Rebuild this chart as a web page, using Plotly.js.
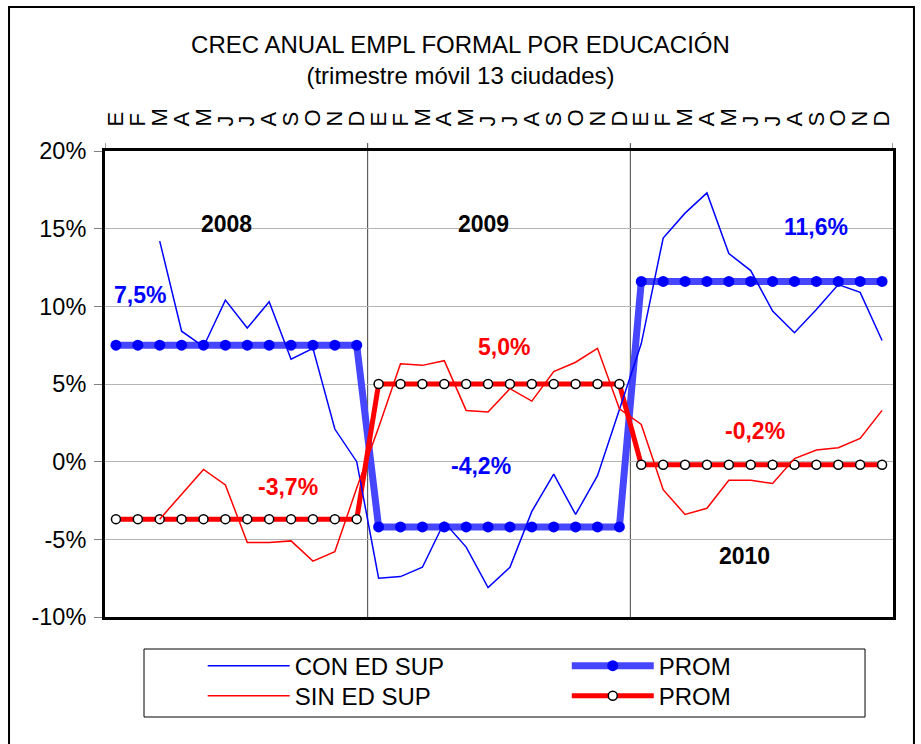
<!DOCTYPE html>
<html>
<head>
<meta charset="utf-8">
<script src="https://cdn.plot.ly/plotly-3.0.1.min.js"></script>
<style>html,body{margin:0;padding:0;background:#fff;}#chart{width:921px;height:744px;}</style>
</head>
<body>
<div id="chart"></div>
<script>
// ---- data ----
const months = ['E','F','M','A','M','J','J','A','S','O','N','D',
                'E','F','M','A','M','J','J','A','S','O','N','D',
                'E','F','M','A','M','J','J','A','S','O','N','D'];
const years = ['2008','2009','2010'];
const conEdSup = [null, null, 14.2, 8.4, 7.4, 10.4, 8.6, 10.3, 6.6, 7.3, 2.1, 0.0,
                  -7.5, -7.4, -6.8, -3.9, -5.5, -8.1, -6.8, -3.2, -0.8, -3.4, -0.9, 3.4,
                  7.6, 14.4, 16.0, 17.3, 13.4, 12.3, 9.7, 8.3, 9.8, 11.4, 10.9, 7.8];
const sinEdSup = [null, null, -3.7, -2.1, -0.5, -1.5, -5.2, -5.2, -5.1, -6.4, -5.8, -1.7,
                  2.2, 6.3, 6.2, 6.5, 3.3, 3.2, 4.7, 3.9, 5.8, 6.4, 7.3, 3.4,
                  2.4, -1.8, -3.4, -3.0, -1.2, -1.2, -1.4, 0.2, 0.75, 0.9, 1.5, 3.3];
const promCon = [7.5, 7.5, 7.5, 7.5, 7.5, 7.5, 7.5, 7.5, 7.5, 7.5, 7.5, 7.5,
                 -4.2, -4.2, -4.2, -4.2, -4.2, -4.2, -4.2, -4.2, -4.2, -4.2, -4.2, -4.2,
                 11.6, 11.6, 11.6, 11.6, 11.6, 11.6, 11.6, 11.6, 11.6, 11.6, 11.6, 11.6];
const promSin = [-3.7, -3.7, -3.7, -3.7, -3.7, -3.7, -3.7, -3.7, -3.7, -3.7, -3.7, -3.7,
                 5.0, 5.0, 5.0, 5.0, 5.0, 5.0, 5.0, 5.0, 5.0, 5.0, 5.0, 5.0,
                 -0.2, -0.2, -0.2, -0.2, -0.2, -0.2, -0.2, -0.2, -0.2, -0.2, -0.2, -0.2];
const yTickVals = [-10, -5, 0, 5, 10, 15, 20];
const yTickLabels = ['-10%', '-5%', '0%', '5%', '10%', '15%', '20%'];
const titleText = 'CREC ANUAL EMPL FORMAL POR EDUCACIÓN<br>(trimestre móvil 13 ciudades)';
const seriesNames = ['CON ED SUP', 'PROM', 'SIN ED SUP', 'PROM'];

// ---- build ----
const idx = months.map((m, i) => i);
const FONT = 'Liberation Sans, Arial, sans-serif';
const fmt = v => v.toFixed(1).replace('.', ',') + '%';

const traces = [
  {x: idx, y: promCon, name: seriesNames[1], mode: 'lines+markers', legend: 'legend2',
   line: {color: '#4646ff', width: 7}, marker: {color: '#0000ff', size: 11}},
  {x: idx, y: promSin, name: seriesNames[3], mode: 'lines+markers', legend: 'legend4',
   line: {color: '#ff0000', width: 5}, marker: {color: '#ffffff', size: 9, line: {color: '#000', width: 1.5}}},
  {x: idx, y: conEdSup, name: seriesNames[0], mode: 'lines', legend: 'legend',
   line: {color: '#0000ff', width: 1.5}},
  {x: idx, y: sinEdSup, name: seriesNames[2], mode: 'lines', legend: 'legend3',
   line: {color: '#ff0000', width: 1.5}}
];

// year boundaries
const shapes = [];
const nYears = years.length;
for (let k = 0; k <= nYears; k++) {
  const xb = k * 12 - 0.5;
  const inner = k > 0 && k < nYears;
  shapes.push({type: 'line', xref: 'x', yref: 'paper', x0: xb, x1: xb,
               y0: inner ? 0 : 1, y1: 1.017, layer: 'below',
               line: {color: '#404040', width: 1}});
}
// outer chart border
shapes.push({type: 'rect', xref: 'paper', yref: 'paper', x0: -0.1218, x1: 1.0266, y0: -0.40, y1: 1.309,
             line: {color: '#000', width: 2}});
// legend box
shapes.push({type: 'rect', xref: 'paper', yref: 'paper', x0: 0.0495, x1: 0.9645, y0: -0.2146, y1: -0.0687,
             line: {color: '#000', width: 1}});

// annotation texts from data
const labelSpecs = [
  {text: years[0], x: 5.07, y: 15.3, color: '#000'},
  {text: years[1], x: 16.8, y: 15.3, color: '#000'},
  {text: years[2], x: 28.7, y: -6.1, color: '#000'},
  {text: fmt(promCon[0]), x: 1.1, y: 10.7, color: '#0000ff'},
  {text: fmt(promCon[12]), x: 16.7, y: -0.3, color: '#0000ff'},
  {text: fmt(promCon[24]), x: 32.0, y: 15.1, color: '#0000ff'},
  {text: fmt(promSin[0]), x: 7.85, y: -1.6, color: '#ff0000'},
  {text: fmt(promSin[12]), x: 17.75, y: 7.4, color: '#ff0000'},
  {text: fmt(promSin[24]), x: 29.2, y: 2.0, color: '#ff0000'}
];
const annotations = labelSpecs.map(s => ({
  text: '<b>' + s.text + '</b>', x: s.x, y: s.y, xref: 'x', yref: 'y', showarrow: false,
  xanchor: 'center', yanchor: 'middle',
  font: {family: FONT, size: 23, color: s.color}
}));

function legendBox(x, y) {
  return {x: x, y: y, xanchor: 'left', yanchor: 'top', orientation: 'v',
          bgcolor: 'rgba(0,0,0,0)', borderwidth: 0, itemwidth: 82, tracegroupgap: 0,
          font: {family: FONT, size: 24, color: '#000'}};
}

const layout = {
  width: 921, height: 744,
  margin: {l: 105, r: 28, t: 151, b: 127, pad: 0},
  paper_bgcolor: '#fff', plot_bgcolor: '#fff',
  font: {family: FONT, color: '#000'},
  showlegend: true,
  title: {text: titleText, x: 0.5, xref: 'container', xanchor: 'center',
          y: 1 - 53 / 744, yref: 'container', yanchor: 'top',
          font: {family: FONT, size: 24, color: '#000'}},
  xaxis: {range: [-0.5, 35.5], side: 'top', tickmode: 'array', tickvals: idx, ticktext: months,
          tickangle: -90, tickfont: {family: FONT, size: 22, color: '#000'},
          showgrid: false, zeroline: false, showline: true, mirror: true,
          linewidth: 3, linecolor: '#000', ticks: '', ticklabelstandoff: 17, fixedrange: true},
  yaxis: {range: [-10, 20], tickmode: 'array', tickvals: yTickVals, ticktext: yTickLabels,
          ticks: 'outside', ticklen: 8, tickwidth: 1, tickcolor: '#808080',
          ticklabelstandoff: 3,
          tickfont: {family: FONT, size: 23.5, color: '#000'},
          showgrid: true, gridcolor: '#b4b4b4', gridwidth: 1, zeroline: false,
          showline: true, mirror: true, linewidth: 3, linecolor: '#000', fixedrange: true},
  legend: legendBox(0.124, -0.057),
  legend2: legendBox(0.586, -0.057),
  legend3: legendBox(0.124, -0.1215),
  legend4: legendBox(0.586, -0.1215),
  shapes: shapes,
  annotations: annotations
};

Plotly.newPlot('chart', traces, layout, {staticPlot: true, displayModeBar: false});
</script>
</body>
</html>
